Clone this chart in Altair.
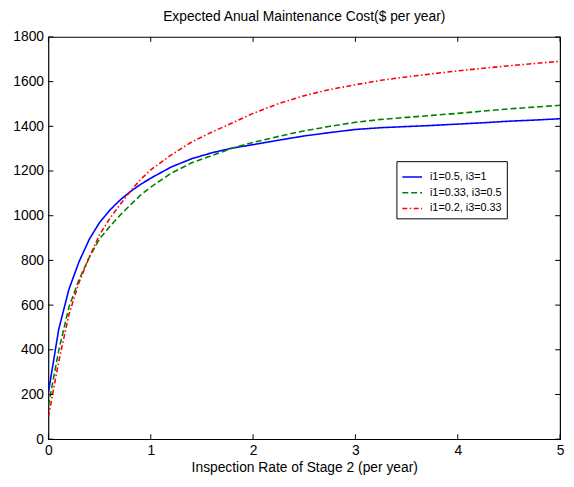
import altair as alt
import pandas as pd

# ---- data ----
x_vals = [0, 0.1, 0.2, 0.3, 0.4, 0.5, 0.6, 0.7, 0.8, 0.9, 1.0, 1.2, 1.4, 1.6, 1.8,
          2.0, 2.25, 2.5, 2.75, 3.0, 3.25, 3.5, 3.75, 4.0, 4.25, 4.5, 4.75, 5.0]
blue_vals = [210, 490, 670, 795, 895, 970, 1025, 1070, 1108, 1140, 1168, 1218, 1255, 1282, 1303,
             1318, 1338, 1357, 1372, 1386, 1394, 1399, 1404, 1410, 1416, 1423, 1428, 1434]
green_vals = [150, 395, 590, 715, 815, 897, 952, 1002, 1048, 1092, 1128, 1190, 1237, 1270, 1303,
              1328, 1355, 1380, 1400, 1418, 1431, 1440, 1449, 1458, 1468, 1478, 1486, 1494]
red_vals = [100, 345, 557, 703, 815, 915, 988, 1050, 1109, 1162, 1205, 1272, 1330, 1375, 1416,
            1458, 1502, 1537, 1565, 1586, 1606, 1621, 1635, 1648, 1660, 1671, 1681, 1691]
series_names = ["i1=0.5, i3=1", "i1=0.33, i3=0.5", "i1=0.2, i3=0.33"]
series_colors = ["#0000FF", "#008000", "#FF0000"]
series_dashes = [[1, 0], [6, 3], [5, 2.5, 1.5, 2.5]]
x_ticks = [0, 1, 2, 3, 4, 5]
y_ticks = [0, 200, 400, 600, 800, 1000, 1200, 1400, 1600, 1800]

rows = []
for name, vals in zip(series_names, [blue_vals, green_vals, red_vals]):
    for xv, yv in zip(x_vals, vals):
        rows.append({"x": xv, "y": yv, "series": name})
df = pd.DataFrame(rows)

W, H = 519, 408
FONT = "Liberation Sans"
TL = 5

xscale = alt.Scale(domain=[0, 5], nice=False, zero=False)
yscale = alt.Scale(domain=[0, 1800], nice=False)

lines = alt.Chart(df).mark_line(strokeWidth=1.6, clip=True).encode(
    x=alt.X("x:Q", scale=xscale,
            axis=alt.Axis(values=x_ticks, format="d", ticks=False, domain=False, grid=False,
                          labelFlush=False, labelPadding=5,
                          title="Inspection Rate of Stage 2 (per year)", titlePadding=3)),
    y=alt.Y("y:Q", scale=yscale,
            axis=alt.Axis(values=y_ticks, format="d", ticks=False, domain=False, grid=False,
                          labelFlush=False, labelPadding=5, title="")),
    color=alt.Color("series:N", sort=series_names, title="",
                    scale=alt.Scale(domain=series_names, range=series_colors),
                    legend=alt.Legend(orient="none", legendX=353, legendY=126,
                                      symbolType="stroke", symbolSize=400,
                                      symbolStrokeWidth=1.6,
                                      labelFontSize=11, labelFont=FONT, labelOffset=7,
                                      strokeColor="black", fillColor="white",
                                      padding=5, rowPadding=-8, cornerRadius=0,
                                      labelColor="black")),
    strokeDash=alt.StrokeDash("series:N", sort=series_names, title="",
                              scale=alt.Scale(domain=series_names, range=series_dashes)),
)

xt = pd.DataFrame({"v": x_ticks})
yt = pd.DataFrame({"v": y_ticks})

xt_bottom = alt.Chart(xt).mark_rule(color="black", strokeWidth=1).encode(
    x=alt.X("v:Q", scale=xscale), y=alt.value(H), y2=alt.value(H - TL))
xt_top = alt.Chart(xt).mark_rule(color="black", strokeWidth=1).encode(
    x=alt.X("v:Q", scale=xscale), y=alt.value(0), y2=alt.value(TL))
yt_left = alt.Chart(yt).mark_rule(color="black", strokeWidth=1).encode(
    y=alt.Y("v:Q", scale=yscale), x=alt.value(0), x2=alt.value(TL))
yt_right = alt.Chart(yt).mark_rule(color="black", strokeWidth=1).encode(
    y=alt.Y("v:Q", scale=yscale), x=alt.value(W), x2=alt.value(W - TL))

chart = alt.layer(lines, xt_bottom, xt_top, yt_left, yt_right).properties(
    width=W, height=H, background="white",
    title=alt.TitleParams("Expected Anual Maintenance Cost($ per year)", fontSize=14,
                          font=FONT, fontWeight="normal", color="black",
                          offset=9, dy=3, frame="group", anchor="middle"),
    autosize=alt.AutoSizeParams(type="none"),
    padding={"left": 41, "top": 26, "right": 6, "bottom": 35},
).configure_view(stroke="black", strokeWidth=1.2).configure_axis(
    labelFont=FONT, labelFontSize=14, labelColor="black",
    titleFont=FONT, titleFontSize=14, titleFontWeight="normal", titleColor="black",
)

chart.save("out.html", embed_options={"renderer": "svg", "actions": False})
